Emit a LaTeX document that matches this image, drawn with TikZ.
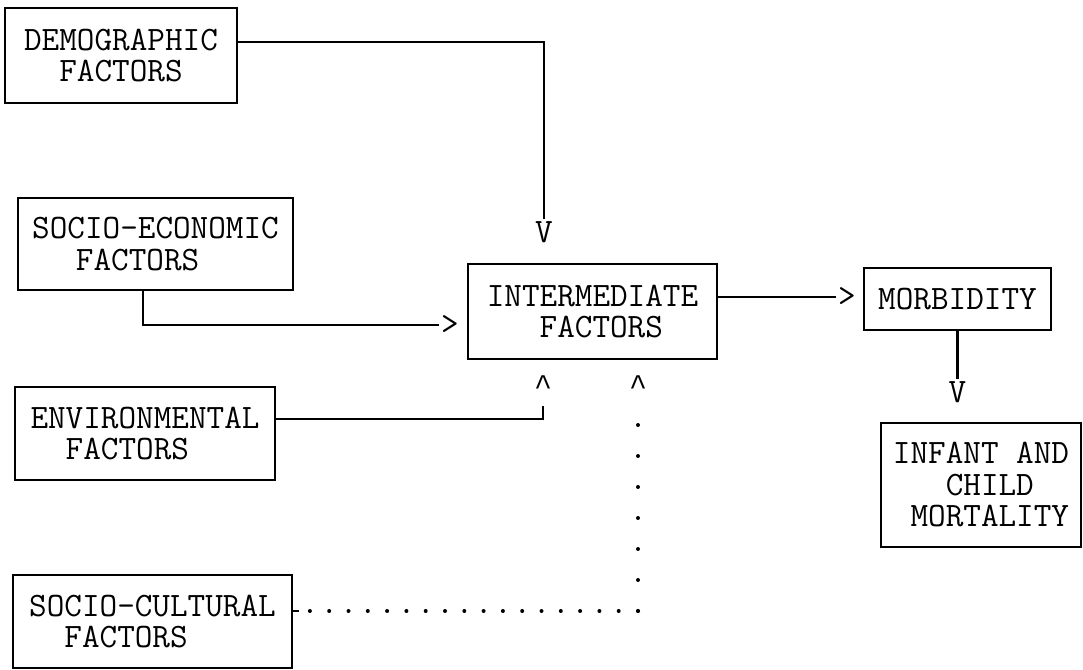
\documentclass[tikz,border=0pt]{standalone}
\usepackage{fontspec}
\usepackage{tikz}
\newfontfamily\caretfont{Liberation Mono}
\usetikzlibrary{positioning}

\begin{document}
\begin{tikzpicture}[
    x=0.5pt, y=0.5pt,
    font=\ttfamily\fontsize{17.1}{15.75}\selectfont,
    box/.style={draw, line width=1.1pt, align=left, inner sep=0pt},
    tip/.style={inner sep=1pt},
    caret/.style={inner sep=1pt, anchor=base, font=\caretfont\fontsize{15}{15}\selectfont},
    ln/.style={line width=1.1pt},
    dotsh/.style={line width=2pt, line cap=round, dash pattern=on 0pt off 9.65pt},
    dotsv/.style={line width=2pt, line cap=round, dash pattern=on 0pt off 15.5pt}
  ]
  \useasboundingbox (0,0) rectangle (1083,670);

  % factor boxes
  \node[box, minimum width=116pt, minimum height=47.5pt] (demo) at (121,614.5) {DEMOGRAPHIC\\\phantom{XX}FACTORS};
  \node[box, minimum width=137.5pt, minimum height=46pt] (secon) at (155.5,426) {SOCIO-ECONOMIC\\\phantom{XX}\hspace{0.25em}FACTORS};
  \node[box, minimum width=130pt, minimum height=46.5pt] (env) at (145,236.5) {ENVIRONMENTAL\\\phantom{XX}FACTORS};
  \node[box, minimum width=139.5pt, minimum height=46.5pt] (socult) at (152.5,48.5) {SOCIO-CULTURAL\\\phantom{XX}FACTORS};
  \node[box, minimum width=124.5pt, minimum height=47.5pt] (inter) at (592.5,358.5) {INTERMEDIATE\\\phantom{XXX}FACTORS};
  \node[box, minimum width=93.5pt, minimum height=31pt] (morb) at (957.5,371) {MORBIDITY};
  \node[box, minimum width=100pt, minimum height=62pt] (infant) at (981,185) {INFANT AND\\\phantom{XXX}CHILD\\\phantom{X}MORTALITY};

  % typed arrow tips
  \node[tip] (v1) at (544,438) {V};
  \node[tip] (gt1) at (450,345) {>};
  \node[tip] (gt2) at (847,373) {>};
  \node[tip] (v2) at (957.5,278) {V};
  \node[caret] (up1) at (543,274) {\textasciicircum};
  \node[caret] (up2) at (638,274) {\textasciicircum};

  % connectors
  \draw[ln] ([yshift=6.75pt]demo.east) -| (v1.north);
  \draw[ln] ([xshift=-6.25pt]secon.south) |- (gt1.west);
  \draw[ln] ([yshift=7.25pt]env.east) -| ([yshift=-5pt]up1.base);
  \draw[ln] ([yshift=7.25pt]inter.east) -- (gt2.west);
  \draw[ln] (morb.south) -- (v2.north);

  \coordinate (crn) at (638,59);
  \draw[ln] ([yshift=5.25pt]socult.east) -- ++(3pt,0);
  \draw[dotsh] (crn) -- ([xshift=4pt,yshift=5.25pt]socult.east);
  \draw[dotsv] (crn) -- ([yshift=-7.5pt]up2.base);
\end{tikzpicture}
\end{document}
